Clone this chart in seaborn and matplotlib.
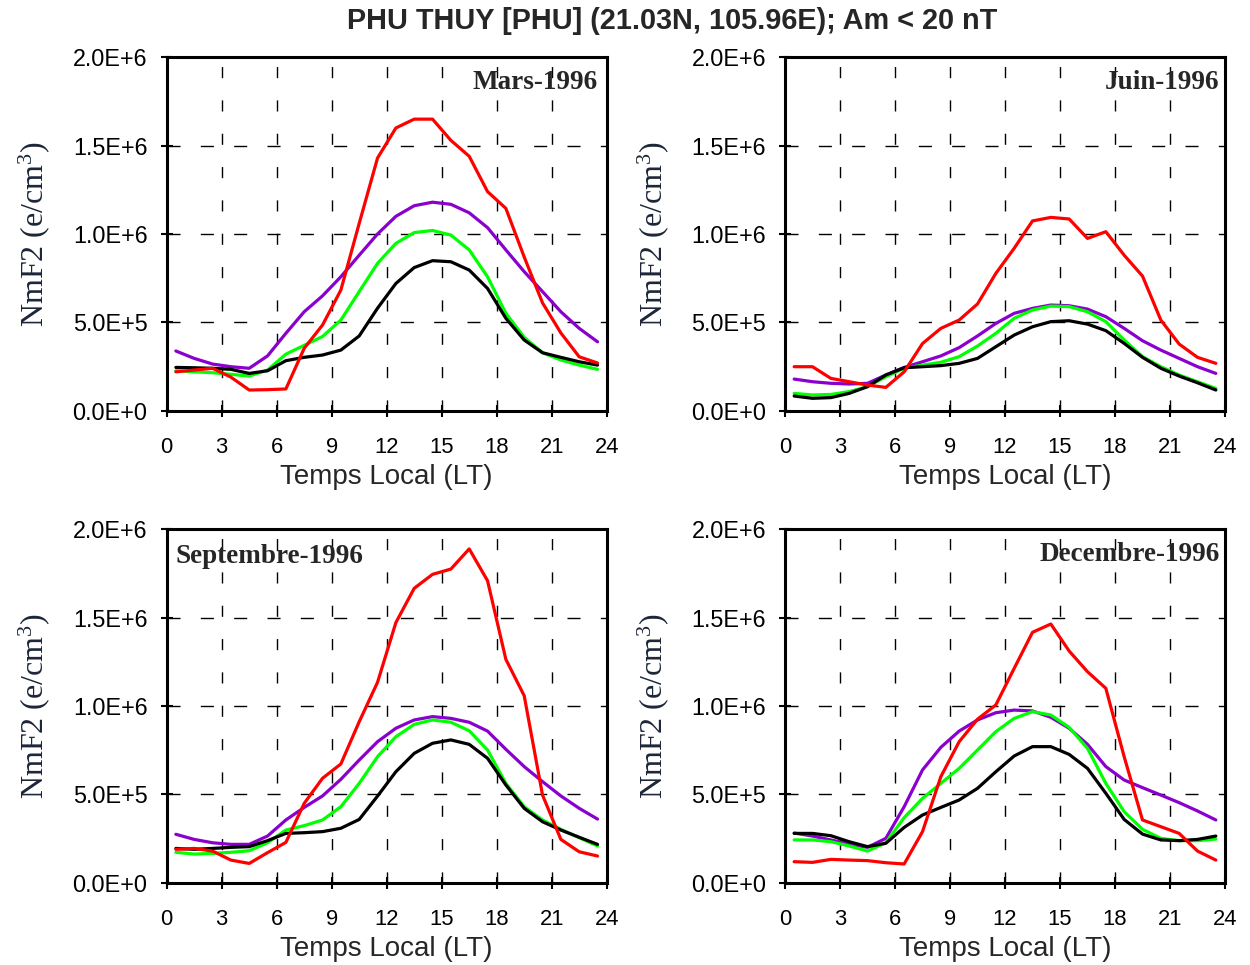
import numpy as np
import pandas as pd
import matplotlib
matplotlib.use("Agg")
import matplotlib.pyplot as plt
import seaborn as sns
from matplotlib.ticker import MultipleLocator, FuncFormatter

# ---------------- data (NmF2 in units of 1e6 e/cm3) ----------------
hours = [0.5, 1.5, 2.5, 3.5, 4.5, 5.5, 6.5, 7.5, 8.5, 9.5, 10.5, 11.5,
         12.5, 13.5, 14.5, 15.5, 16.5, 17.5, 18.5, 19.5, 20.5, 21.5, 22.5, 23.5]

months = ["Mars-1996", "Juin-1996", "Septembre-1996", "Decembre-1996"]
series_names = ["violet", "vert", "noir", "rouge"]
series_colors = ["#8a00cc", "#00ff00", "#000000", "#ff0000"]

mars_rouge = [0.22, 0.23, 0.24, 0.19, 0.117, 0.119, 0.123, 0.353, 0.485, 0.683, 1.06, 1.43,
              1.60, 1.65, 1.65, 1.53, 1.44, 1.24, 1.145, 0.87, 0.61, 0.44, 0.305, 0.27]
mars_violet = [0.338, 0.296, 0.264, 0.249, 0.24, 0.31, 0.438, 0.56, 0.65, 0.758, 0.88, 1.00,
               1.10, 1.16, 1.18, 1.168, 1.12, 1.036, 0.91, 0.787, 0.674, 0.56, 0.466, 0.39]
mars_vert = [0.226, 0.22, 0.215, 0.206, 0.196, 0.23, 0.32, 0.37, 0.42, 0.513, 0.674, 0.834,
             0.947, 1.008, 1.02, 0.994, 0.91, 0.758, 0.551, 0.415, 0.328, 0.287, 0.258, 0.234]
mars_noir = [0.245, 0.243, 0.24, 0.234, 0.211, 0.226, 0.283, 0.302, 0.315, 0.343, 0.423, 0.58,
             0.72, 0.81, 0.849, 0.843, 0.796, 0.692, 0.523, 0.40, 0.328, 0.302, 0.277, 0.258]

juin_rouge = [0.249, 0.249, 0.183, 0.164, 0.145, 0.132, 0.22, 0.38, 0.466, 0.513, 0.604, 0.777,
              0.919, 1.074, 1.094, 1.085, 0.975, 1.013, 0.88, 0.762, 0.513, 0.377, 0.302, 0.268]
juin_violet = [0.179, 0.164, 0.155, 0.151, 0.155, 0.202, 0.245, 0.277, 0.31, 0.357, 0.423, 0.494,
               0.551, 0.579, 0.598, 0.594, 0.575, 0.532, 0.466, 0.396, 0.343, 0.296, 0.249, 0.211]
juin_vert = [0.098, 0.089, 0.092, 0.108, 0.136, 0.192, 0.24, 0.258, 0.274, 0.306, 0.366, 0.438,
             0.523, 0.57, 0.592, 0.589, 0.56, 0.504, 0.40, 0.306, 0.249, 0.202, 0.164, 0.126]
juin_noir = [0.083, 0.07, 0.074, 0.098, 0.136, 0.202, 0.243, 0.249, 0.255, 0.268, 0.296, 0.362,
             0.428, 0.475, 0.504, 0.509, 0.49, 0.453, 0.381, 0.302, 0.24, 0.196, 0.158, 0.117]

sept_rouge = [0.189, 0.194, 0.179, 0.128, 0.109, 0.17, 0.228, 0.449, 0.591, 0.672, 0.911, 1.134,
              1.472, 1.666, 1.745, 1.775, 1.889, 1.709, 1.264, 1.058, 0.496, 0.245, 0.175, 0.151]
sept_violet = [0.274, 0.245, 0.226, 0.217, 0.217, 0.264, 0.355, 0.426, 0.491, 0.585, 0.694, 0.798,
               0.874, 0.921, 0.94, 0.93, 0.908, 0.858, 0.755, 0.657, 0.572, 0.491, 0.421, 0.36]
sept_vert = [0.172, 0.162, 0.166, 0.172, 0.181, 0.226, 0.298, 0.323, 0.355, 0.43, 0.562, 0.713,
             0.826, 0.896, 0.921, 0.908, 0.86, 0.751, 0.562, 0.43, 0.355, 0.302, 0.255, 0.208]
sept_noir = [0.194, 0.189, 0.194, 0.20, 0.204, 0.238, 0.279, 0.283, 0.289, 0.308, 0.358, 0.49,
             0.628, 0.732, 0.789, 0.808, 0.783, 0.704, 0.553, 0.421, 0.345, 0.298, 0.257, 0.217]

dec_rouge = [0.119, 0.115, 0.132, 0.128, 0.125, 0.113, 0.106, 0.289, 0.60, 0.798, 0.925, 1.006,
             1.213, 1.417, 1.464, 1.311, 1.194, 1.10, 0.713, 0.355, 0.317, 0.279, 0.179, 0.128]
dec_violet = [0.281, 0.264, 0.242, 0.219, 0.20, 0.251, 0.43, 0.638, 0.766, 0.858, 0.921, 0.962,
              0.977, 0.972, 0.936, 0.874, 0.783, 0.657, 0.581, 0.538, 0.496, 0.453, 0.406, 0.355]
dec_vert = [0.242, 0.242, 0.232, 0.208, 0.179, 0.226, 0.368, 0.477, 0.562, 0.647, 0.751, 0.855,
            0.93, 0.968, 0.949, 0.879, 0.76, 0.562, 0.402, 0.302, 0.251, 0.238, 0.238, 0.247]
dec_noir = [0.279, 0.279, 0.266, 0.232, 0.204, 0.223, 0.313, 0.383, 0.426, 0.468, 0.534, 0.628,
            0.717, 0.77, 0.77, 0.726, 0.647, 0.506, 0.358, 0.275, 0.242, 0.238, 0.245, 0.264]

xticks = [0, 3, 6, 9, 12, 15, 18, 21, 24]
title = "PHU THUY [PHU] (21.03N, 105.96E); Am < 20 nT"
xlabel = "Temps Local (LT)"
ylabel = r"NmF2 (e/cm$^{3}$)"

panel_data = {
    "Mars-1996": [mars_violet, mars_vert, mars_noir, mars_rouge],
    "Juin-1996": [juin_violet, juin_vert, juin_noir, juin_rouge],
    "Septembre-1996": [sept_violet, sept_vert, sept_noir, sept_rouge],
    "Decembre-1996": [dec_violet, dec_vert, dec_noir, dec_rouge],
}

# ---------------- style ----------------
sns.set_style("white")
plt.rcParams["font.family"] = ["Liberation Sans", "DejaVu Sans"]
plt.rcParams["mathtext.fontset"] = "custom"
plt.rcParams["mathtext.rm"] = "Liberation Serif"
plt.rcParams["mathtext.it"] = "Liberation Serif"
plt.rcParams["mathtext.bf"] = "Liberation Serif:bold"

W, H = 1250, 965
fig = plt.figure(figsize=(W / 100, H / 100), dpi=100)
fig.patch.set_facecolor("white")

# axes boxes in pixels: (left, top, width, height)
boxes = [(166.7, 57.3, 440, 353.4), (785, 57.3, 440, 353.4),
         (166.7, 529.3, 440, 353.4), (785, 529.3, 440, 353.4)]
title_pos = [(0.980, 0.963, "right"), (0.986, 0.963, "right"),
             (0.021, 0.958, "left"), (0.989, 0.963, "right")]


def sci_fmt(v, pos):
    s = f"{v:.1E}"
    m, ex = s.split("E")
    return f"{m}E{int(ex):+d}"


for i, month in enumerate(months):
    l, t, w, h = boxes[i]
    ax = fig.add_axes([l / W, 1 - (t + h) / H, w / W, h / H])
    rows = []
    for name, vals in zip(series_names, panel_data[month]):
        for hr, v in zip(hours, vals):
            rows.append({"LT": hr, "NmF2": v * 1e6, "serie": name})
    df = pd.DataFrame(rows)
    sns.lineplot(data=df, x="LT", y="NmF2", hue="serie", hue_order=series_names,
                 palette=series_colors, linewidth=2.3, legend=False, ax=ax,
                 estimator=None, sort=False)

    ax.set_xlim(0, 24)
    ax.set_ylim(0, 2.0e6)
    ax.set_xticks(xticks)
    ax.xaxis.set_minor_locator(MultipleLocator(1))
    ax.yaxis.set_major_locator(MultipleLocator(5e5))
    ax.yaxis.set_minor_locator(MultipleLocator(2.5e5))
    ax.yaxis.set_major_formatter(FuncFormatter(sci_fmt))

    ax.tick_params(axis="both", which="major", direction="inout", length=8.5, width=1.5,
                   colors="black")
    ax.tick_params(axis="x", which="major", pad=15, labelsize=15.8)
    ax.tick_params(axis="y", which="major", pad=9.5, labelsize=16.8)
    ax.tick_params(axis="both", which="minor", direction="out", length=2.8, width=1.6)
    ax.tick_params(top=False, right=False, bottom=True, left=True)

    ax.xaxis.grid(True, which="major", color="black", linewidth=1.0,
                  linestyle=(0, (8.0, 16.0)))
    ax.yaxis.grid(True, which="major", color="black", linewidth=1.0,
                  linestyle=(0, (9.4, 14.6)))
    ax.set_axisbelow(True)

    for sp in ax.spines.values():
        sp.set_visible(True)
        sp.set_color("black")
        sp.set_linewidth(2.2)

    ax.set_xlabel(xlabel, fontsize=20)
    ax.xaxis.set_label_coords(0.5, -0.150)
    ax.set_ylabel(ylabel, fontsize=23, family="Liberation Serif", color="#1c2638")
    ax.yaxis.set_label_coords(-0.260, 0.5)

    tx, ty, ha = title_pos[i]
    ax.text(tx, ty, month, transform=ax.transAxes, ha=ha, va="top",
            fontsize=19.5, fontweight="bold", family="Liberation Serif")

fig.text(0.5375, 0.978, title, ha="center", va="center", fontsize=20.8,
         fontweight="bold")

fig.savefig("out.png", dpi=100, facecolor="white")
